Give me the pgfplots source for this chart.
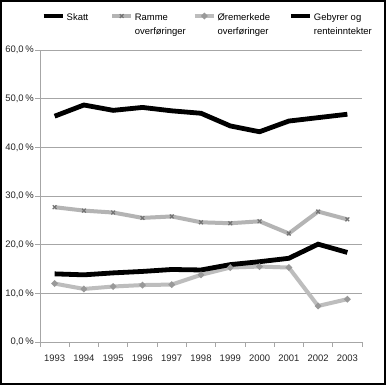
\documentclass[border=0pt]{standalone}
\usepackage{pgfplots}
\pgfplotsset{compat=1.18}
\usepackage{fontspec}
\setmainfont{Liberation Sans}
\definecolor{ramme}{HTML}{B4B4B4}
\definecolor{oremerk}{HTML}{BDBDBD}
\definecolor{gridc}{HTML}{A6A6A6}
\newcommand{\legtxt}[2]{\parbox[t]{#1}{\raggedright #2}}
\begin{document}
\begin{tikzpicture}[x=1pt,y=1pt]
\useasboundingbox (0,0) rectangle (289.5,288.75);
\fill[white] (0,0) rectangle (289.5,288.75);
\begin{axis}[
  at={(30pt,32.25pt)}, anchor=south west,
  scale only axis, width=241.5pt, height=219pt,
  xmin=-0.5, xmax=10.5, ymin=0, ymax=60,
  axis lines*=left, axis line style={gridc, line width=0.6pt, -},
  xtick={0,...,10},
  xticklabels={1993,1994,1995,1996,1997,1998,1999,2000,2001,2002,2003},
  major x tick style={draw=none},
  minor xtick={-0.5,0.5,...,10.5},
  minor x tick style={gridc, line width=0.6pt},
  minor tick length=3.5pt,
  tick align=outside,
  ytick={0,10,...,60},
  major tick length=3.5pt,
  y tick style={gridc, line width=0.6pt},
  ymajorgrids, grid style={gridc, line width=0.6pt},
  yticklabel={\pgfmathprintnumber{\tick}\,\%},
  /pgf/number format/.cd, fixed, fixed zerofill, precision=1, use comma, assume math mode=true,
  /pgfplots/.cd,
  tick label style={font=\fontsize{7.1}{8}\selectfont, text=black!85},
  xticklabel style={yshift=-2.5pt},
  yticklabel style={inner sep=1pt},
  legend columns=4,
  legend style={at={(0.0031,1.127)}, anchor=north west, draw=none, fill=none,
    inner sep=0pt, font=\fontsize{7.1}{10.5}\selectfont,
    nodes={inner sep=0pt, anchor=base west}},
  /tikz/every odd column/.append style={column sep=1.3pt},
  /tikz/every even column/.append style={column sep=0pt},
  legend image code/.code={\draw[mark repeat=2,mark phase=2,#1,yshift=3pt] plot coordinates {(0pt,0pt) (7.1pt,0pt) (14.2pt,0pt)};},
]
\addplot[black, line width=3.6pt, mark=none] coordinates {
(0,46.4) (1,48.7) (2,47.6) (3,48.2) (4,47.5) (5,47.0) (6,44.4) (7,43.2) (8,45.4) (9,46.1) (10,46.8)};
\addlegendentry{\legtxt{32.6pt}{Skatt}}
\addplot[ramme, line width=3pt, mark=x, mark size=2pt, mark options={draw=black!55, line width=0.9pt}] coordinates {
(0,27.7) (1,27.0) (2,26.6) (3,25.5) (4,25.8) (5,24.6) (6,24.4) (7,24.8) (8,22.3) (9,26.8) (10,25.2)};
\addlegendentry{\legtxt{43.5pt}{Ramme\\overføringer}}
\addplot[oremerk, line width=3pt, mark=*, mark size=0.5pt, mark options={draw=black!40, fill=black!40}] coordinates {
(0,12.0) (1,10.9) (2,11.4) (3,11.7) (4,11.8) (5,13.8) (6,15.3) (7,15.5) (8,15.3) (9,7.4) (10,8.8)};
\addlegendentry{\legtxt{53.2pt}{Øremerkede\\overføringer}}
\addplot[black, line width=3.6pt, mark=none] coordinates {
(0,14.0) (1,13.8) (2,14.2) (3,14.5) (4,14.9) (5,14.8) (6,15.9) (7,16.5) (8,17.2) (9,20.1) (10,18.4)};
\addlegendentry{\legtxt{50pt}{Gebyrer og\\renteinntekter}}
\end{axis}
\draw[black, line width=1.4pt] (0.7,0.7) rectangle (288.8,288.05);
\end{tikzpicture}
\end{document}
